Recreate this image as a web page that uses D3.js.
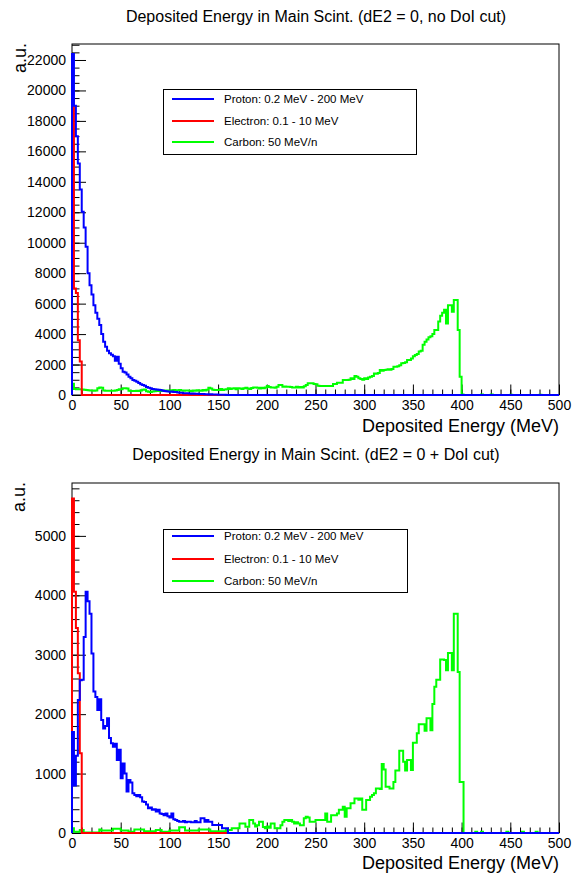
<!DOCTYPE html>
<html><head><meta charset="utf-8">
<script src="https://cdn.jsdelivr.net/npm/d3@7"></script>
<style>
body{margin:0;background:#fff}
svg{display:block}
text{font-family:"Liberation Sans",Arial,Helvetica,sans-serif;fill:#000}
</style>
</head><body>
<svg id="chart" width="575" height="876"></svg>
<script>
// ---------- data (bin width 2 MeV, bins start at 0 MeV) ----------
const binWidth = 2;
const xRange = [0, 500];
const xTickValues = [0, 50, 100, 150, 200, 250, 300, 350, 400, 450, 500];
const yTicksTop = [0, 2000, 4000, 6000, 8000, 10000, 12000, 14000, 16000, 18000, 20000, 22000];
const yTicksBottom = [0, 1000, 2000, 3000, 4000, 5000];
const seriesNames = ["Proton: 0.2 MeV - 200 MeV", "Electron: 0.1 - 10 MeV", "Carbon: 50 MeV/n"];
const titles = ["Deposited Energy in Main Scint. (dE2 = 0, no DoI cut)",
                "Deposited Energy in Main Scint. (dE2 = 0 + DoI cut)"];
const xTitle = "Deposited Energy (MeV)";
const yTitle = "a.u.";

// Panel 1: no DoI cut
const protonTop = [
  22400, 19000, 17000, 15200, 13500, 12040, 11000, 9740, 8000, 7200,
  6600, 5900, 5400, 5000, 4600, 4000, 3500, 3170, 2900, 2740,
  2650, 2550, 2250, 2520, 2050, 1750, 1530, 1480, 1350, 1200,
  1100, 980, 930, 875, 780, 700, 650, 600, 520, 470,
  440, 400, 380, 360, 340, 330, 300, 270, 250, 230,
  220, 230, 200, 190, 170, 150, 140, 120, 110, 120,
  100, 90, 95, 80, 75, 70, 65, 60, 55, 50,
  40, 45, 30, 35, 25, 20, 18, 12, 10, 5
];
const electronTop = [19500, 7000, 6700, 3600, 2200];
const carbonTop = [
  740, 400, 380, 370, 370, 360, 340, 330, 320, 300,
  290, 280, 290, 440, 500, 480, 290, 280, 280, 280,
  280, 280, 290, 330, 370, 370, 440, 440, 420, 280,
  270, 260, 270, 280, 260, 300, 350, 360, 240, 220,
  200, 230, 250, 260, 280, 270, 280, 290, 300, 290,
  300, 310, 330, 300, 310, 330, 300, 280, 300, 300,
  280, 250, 300, 280, 320, 300, 280, 330, 300, 350,
  480, 420, 350, 330, 330, 330, 400, 330, 360, 380,
  440, 400, 420, 440, 380, 450, 420, 400, 450, 470,
  430, 400, 460, 500, 500, 480, 420, 470, 450, 500,
  590, 520, 500, 500, 480, 540, 650, 650, 550, 560,
  540, 550, 520, 500, 500, 540, 500, 520, 500, 580,
  650, 770, 770, 770, 720, 700, 600, 590, 590, 590,
  590, 590, 590, 590, 720, 720, 810, 810, 810, 985,
  985, 985, 1000, 1100, 1050, 1250, 1200, 1100, 1050, 1000,
  1100, 1050, 1150, 1200, 1250, 1420, 1400, 1450, 1640, 1600,
  1640, 1660, 1690, 1650, 1700, 1860, 1860, 1880, 1950, 2080,
  2100, 2150, 2300, 2300, 2400, 2550, 2630, 2700, 2850, 2900,
  3300, 3500, 3650, 3800, 3850, 4000, 4270, 4270, 4820, 5200,
  5400, 5600, 4700, 5900, 5900, 5470, 6240, 6240, 4270, 1200,
  40, 0, 0, 0, 0, 0, 0, 0, 0, 0,
  30, 0, 0, 0, 0, 30, 0, 0, 0, 0,
  0, 0, 0, 0, 0, 20, 0, 0, 0, 0,
  0, 0, 0, 0, 0, 0, 0, 0, 0, 0,
  20, 0, 0, 0, 0, 0, 0, 0, 0, 0
];

// Panel 2: DoI cut
const protonBottom = [
  1700, 800, 1300, 2240, 2570, 2580, 3300, 4060, 3900, 3690,
  3020, 2380, 2290, 2070, 2250, 1900, 1760, 1800, 1930, 1600,
  1510, 1450, 1500, 1230, 1400, 920, 1170, 1000, 700, 890,
  850, 667, 640, 620, 640, 600, 530, 520, 480, 415,
  430, 390, 400, 360, 390, 330, 320, 300, 330, 280,
  260, 330, 230, 220, 200, 190, 190, 200, 180, 190,
  190, 180, 180, 200, 180, 180, 250, 250, 190, 220,
  190, 190, 135, 135, 135, 135, 135, 80, 80, 80
];
const electronBottom = [5630, 4060, 3450, 2690, 1340];
const carbonBottom = [
  80, 20, 20, 20, 50, 50, 10, 10, 10, 10,
  10, 10, 10, 10, 60, 40, 40, 40, 40, 40,
  40, 70, 70, 70, 70, 40, 40, 40, 40, 20,
  20, 20, 60, 60, 60, 60, 60, 30, 30, 30,
  30, 30, 30, 50, 50, 50, 20, 20, 20, 20,
  40, 40, 40, 40, 40, 95, 95, 95, 40, 40,
  40, 40, 40, 40, 40, 60, 60, 60, 60, 60,
  60, 30, 30, 30, 30, 30, 30, 30, 30, 50,
  50, 50, 80, 80, 80, 80, 160, 160, 160, 107,
  107, 220, 219, 160, 110, 130, 190, 190, 100, 80,
  110, 90, 160, 160, 80, 80, 80, 130, 190, 220,
  220, 200, 220, 190, 160, 180, 160, 130, 130, 250,
  275, 260, 190, 190, 190, 220, 220, 220, 220, 220,
  330, 190, 190, 300, 300, 300, 330, 390, 390, 440,
  275, 415, 415, 500, 500, 580, 580, 560, 580, 390,
  390, 555, 555, 610, 640, 670, 750, 750, 740, 1160,
  1070, 780, 780, 750, 750, 860, 1050, 1050, 1385, 1385,
  1200, 1050, 1230, 1230, 1060, 1520, 1520, 1680, 1830, 1830,
  1830, 1720, 1930, 1930, 1730, 2170, 2460, 2580, 2580, 2920,
  2920, 2910, 2740, 3030, 3030, 2740, 3690, 3690, 2710, 860,
  860, 0, 0, 0, 0, 0, 0, 20, 0, 0,
  20, 0, 0, 0, 0, 0, 0, 0, 0, 0,
  0, 0, 0, 20, 0, 0, 0, 0, 0, 0,
  0, 20, 0, 0, 0, 0, 0, 0, 20, 0,
  0, 0, 0, 0, 0, 0, 0, 0, 0, 0
];

const colors = ["#0000ff", "#ff0000", "#00ff00"];

// ---------- layout ----------
const panels = [
  { title: titles[0], titleY: 22, top: 44, bottom: 395, ymax: 23050, yTicks: yTicksTop, yMinor: 500,
    proton: protonTop, electron: electronTop, carbon: carbonTop,
    xLabelPad: 5, xTitleY: 432, yTitleX: 26, legend: { x: 163, y: 89, w: 253, h: 65, rows: [99, 121, 142] } },
  { title: titles[1], titleY: 460, top: 483, bottom: 833, ymax: 5890, yTicks: yTicksBottom, yMinor: 200,
    proton: protonBottom, electron: electronBottom, carbon: carbonBottom,
    xLabelPad: 5, xTitleY: 869, yTitleX: 25, legend: { x: 163, y: 529, w: 244, h: 63, rows: [536, 559, 581] } }
];
const left = 72, right = 559;

const svg = d3.select("#chart");
svg.append("rect").attr("width", 575).attr("height", 876).attr("fill", "#fff");

panels.forEach((p, pi) => {
  const g = svg.append("g");
  const x = d3.scaleLinear().domain(xRange).range([left, right]);
  const y = d3.scaleLinear().domain([0, p.ymax]).range([p.bottom, p.top]);

  // title
  g.append("text").attr("x", 316).attr("y", p.titleY).attr("text-anchor", "middle")
    .attr("font-size", 16).text(p.title);

  // frame
  g.append("rect").attr("x", left).attr("y", p.top).attr("width", right - left).attr("height", p.bottom - p.top)
    .attr("fill", "none").attr("stroke", "#000").attr("stroke-width", 1);

  // minor ticks
  const yMinorVals = d3.range(0, p.ymax + 1, p.yMinor);
  const yMinorAxis = d3.axisLeft(y).tickValues(yMinorVals).tickSize(-7.5).tickFormat("");
  g.append("g").attr("transform", `translate(${left},0)`).call(yMinorAxis)
    .call(s => s.select(".domain").remove());
  const xMinorAxis = d3.axisBottom(x).tickValues(d3.range(0, 501, 10)).tickSize(-5.5).tickFormat("");
  g.append("g").attr("transform", `translate(0,${p.bottom})`).call(xMinorAxis)
    .call(s => s.select(".domain").remove());

  // major axes
  const yAxis = d3.axisLeft(y).tickValues(p.yTicks).tickSize(-14).tickPadding(6).tickFormat(d3.format("d"));
  g.append("g").attr("transform", `translate(${left},0)`).call(yAxis)
    .call(s => s.select(".domain").remove())
    .call(s => s.selectAll("text").attr("font-size", 14).attr("font-family", null));
  const xAxis = d3.axisBottom(x).tickValues(xTickValues).tickSize(-10.5).tickPadding(p.xLabelPad).tickFormat(d3.format("d"));
  g.append("g").attr("transform", `translate(0,${p.bottom})`).call(xAxis)
    .call(s => s.select(".domain").remove())
    .call(s => s.selectAll("text").attr("font-size", 14).attr("font-family", null));
  g.selectAll(".tick line").attr("stroke", "#000");

  // axis titles
  g.append("text").attr("x", right).attr("y", p.xTitleY).attr("text-anchor", "end")
    .attr("font-size", 18).text(xTitle);
  g.append("text").attr("transform", `translate(${p.yTitleX},${p.top - 1}) rotate(-90)`)
    .attr("text-anchor", "end").attr("font-size", 18).text(yTitle);

  // histograms
  const clipId = "clip" + pi;
  svg.append("clipPath").attr("id", clipId).append("rect")
    .attr("x", left - 1).attr("y", p.top).attr("width", right - left + 2).attr("height", p.bottom - p.top + 2);
  const nBins = Math.round((xRange[1] - xRange[0]) / binWidth);
  function stepPoints(vals) {
    const pts = [[0, 0]];
    for (let i = 0; i < nBins; i++) {
      const v = i < vals.length ? vals[i] : 0;
      pts.push([i * binWidth, v]);
      pts.push([(i + 1) * binWidth, v]);
    }
    pts.push([xRange[1], 0]);
    return pts;
  }
  const line = d3.line().x(d => x(d[0])).y(d => y(d[1]));
  const order = [[p.carbon, colors[2]], [p.electron, colors[1]], [p.proton, colors[0]]];
  const hg = g.append("g").attr("clip-path", `url(#${clipId})`);
  order.forEach(([vals, c]) => {
    hg.append("path").attr("d", line(stepPoints(vals))).attr("fill", "none")
      .attr("stroke", c).attr("stroke-width", 2).attr("stroke-linejoin", "miter");
  });

  // legend
  const L = p.legend;
  const lg = g.append("g");
  lg.append("rect").attr("x", L.x + 0.5).attr("y", L.y + 0.5).attr("width", L.w).attr("height", L.h)
    .attr("fill", "#fff").attr("stroke", "#000").attr("stroke-width", 1);
  seriesNames.forEach((name, i) => {
    lg.append("line").attr("x1", 172).attr("x2", 214).attr("y1", L.rows[i]).attr("y2", L.rows[i])
      .attr("stroke", colors[i]).attr("stroke-width", 2);
    lg.append("text").attr("x", 224).attr("y", L.rows[i]).attr("dy", "0.35em")
      .attr("font-size", 11.5).text(name);
  });
});
</script>
</body></html>
